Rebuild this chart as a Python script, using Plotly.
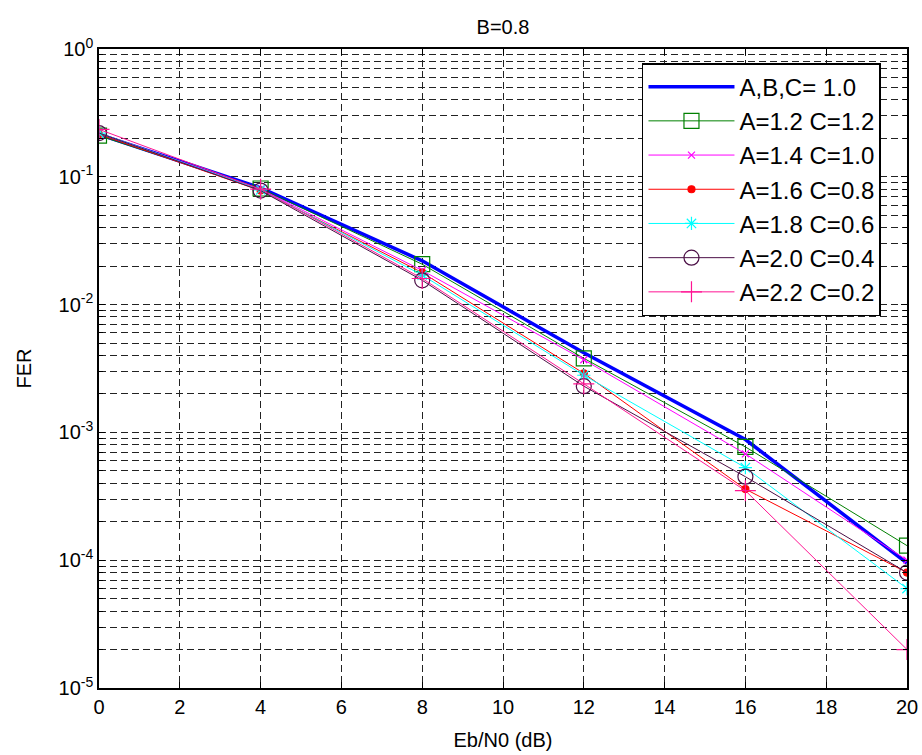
import plotly.graph_objects as go

ebn0 = [0, 4, 8, 12, 16, 20]
fer_abc10 = [0.215, 0.082, 0.022, 0.0042, 0.00088, 0.000095]
fer_a12_c12 = [0.21, 0.081, 0.0207, 0.0038, 0.00077, 0.00013]
fer_a14_c10 = [0.22, 0.080, 0.0185, 0.0037, 0.00068, 0.0001]
fer_a16_c08 = [0.215, 0.078, 0.0178, 0.0029, 0.00036, 0.00008]
fer_a18_c06 = [0.22, 0.079, 0.017, 0.0028, 0.00053, 0.00006]
fer_a20_c04 = [0.22, 0.078, 0.0155, 0.0023, 0.00045, 0.00008]
fer_a22_c02 = [0.235, 0.080, 0.016, 0.0024, 0.00035, 0.00002]

names = ["A,B,C= 1.0", "A=1.2 C=1.2", "A=1.4 C=1.0", "A=1.6 C=0.8",
         "A=1.8 C=0.6", "A=2.0 C=0.4", "A=2.2 C=0.2"]
series = [fer_abc10, fer_a12_c12, fer_a14_c10, fer_a16_c08,
          fer_a18_c06, fer_a20_c04, fer_a22_c02]

y_tickvals = [1e-5, 1e-4, 1e-3, 1e-2, 1e-1, 1]
y_ticktext = ["10<sup>-5</sup>", "10<sup>-4</sup>", "10<sup>-3</sup>",
              "10<sup>-2</sup>", "10<sup>-1</sup>", "10<sup>0</sup>"]
x_tickvals = [0, 2, 4, 6, 8, 10, 12, 14, 16, 18, 20]

styles = [
    dict(color="#0000FF", width=3.5, symbol=None, msize=0),
    dict(color="#008000", width=1, symbol="square-open", msize=15),
    dict(color="#FF00FF", width=1, symbol="x-thin-open", msize=7),
    dict(color="#FF0000", width=1, symbol="circle", msize=7),
    dict(color="#00FFFF", width=1, symbol="asterisk-open", msize=11),
    dict(color="#4B0F46", width=1, symbol="circle-open", msize=15),
    dict(color="#FF1493", width=1, symbol="cross-thin-open", msize=15),
]

fig = go.Figure()
for i, (name, ys, st) in enumerate(zip(names, series, styles)):
    if st["symbol"] is None:
        fig.add_trace(go.Scatter(x=ebn0, y=ys, name=name, mode="lines",
                                 legendgroup=f"g{i}",
                                 line=dict(color=st["color"], width=st["width"])))
    else:
        fig.add_trace(go.Scatter(
            x=ebn0, y=ys, name=name, mode="lines+markers", legendgroup=f"g{i}",
            line=dict(color=st["color"], width=st["width"]),
            marker=dict(symbol=st["symbol"], size=st["msize"], color=st["color"],
                        line=dict(color=st["color"], width=1.2))))

font = "Liberation Sans, Arial, sans-serif"
grid_dash = "7px,4px"
fig.update_layout(
    width=922, height=755, autosize=False,
    margin=dict(l=99, r=15, t=49, b=67),
    paper_bgcolor="white", plot_bgcolor="white",
    font=dict(family=font, size=20, color="black"),
    title=dict(text="B=0.8", xref="paper", x=0.5, xanchor="center",
               y=0.964, yanchor="middle",
               font=dict(size=20, family=font, color="black")),
    showlegend=True,
    legend=dict(x=0.672, y=0.978, xanchor="left", yanchor="top",
                bgcolor="white", bordercolor="black", borderwidth=1.5,
                font=dict(size=24, family=font, color="black"),
                tracegroupgap=0, itemwidth=86, itemsizing="trace"),
)
fig.update_xaxes(
    range=[0, 20], tickvals=x_tickvals, ticks="inside", ticklen=6, tickcolor="black",
    showline=True, linecolor="black", linewidth=1.5, mirror="allticks",
    showgrid=True, gridcolor="#222222", griddash=grid_dash, gridwidth=1,
    zeroline=False, automargin=False,
    title=dict(text="Eb/N0 (dB)", font=dict(size=20, family=font), standoff=16),
    tickfont=dict(size=20, family=font),
)
fig.update_yaxes(
    type="log", range=[-5, 0], tickvals=y_tickvals, ticktext=y_ticktext,
    ticks="inside", ticklen=6, tickcolor="black",
    showline=True, linecolor="black", linewidth=1.5, mirror="allticks",
    showgrid=True, gridcolor="#222222", griddash=grid_dash, gridwidth=1,
    zeroline=False, automargin=False,
    minor=dict(dtick="D1", ticks="inside", ticklen=4, tickcolor="black",
               showgrid=True, gridcolor="#222222", griddash=grid_dash, gridwidth=1),
    title=dict(text="FER", font=dict(size=20, family=font), standoff=22),
    tickfont=dict(size=20, family=font),
)

fig.write_html(
    "out.html",
    config={"responsive": False, "displayModeBar": False},
    post_script=(
        "document.documentElement.style.overflow='hidden';"
        "document.body.style.margin='0';document.body.style.overflow='hidden';"
        "Plotly.relayout('{plot_id}', {width: 922, height: 755});"
    ),
)
